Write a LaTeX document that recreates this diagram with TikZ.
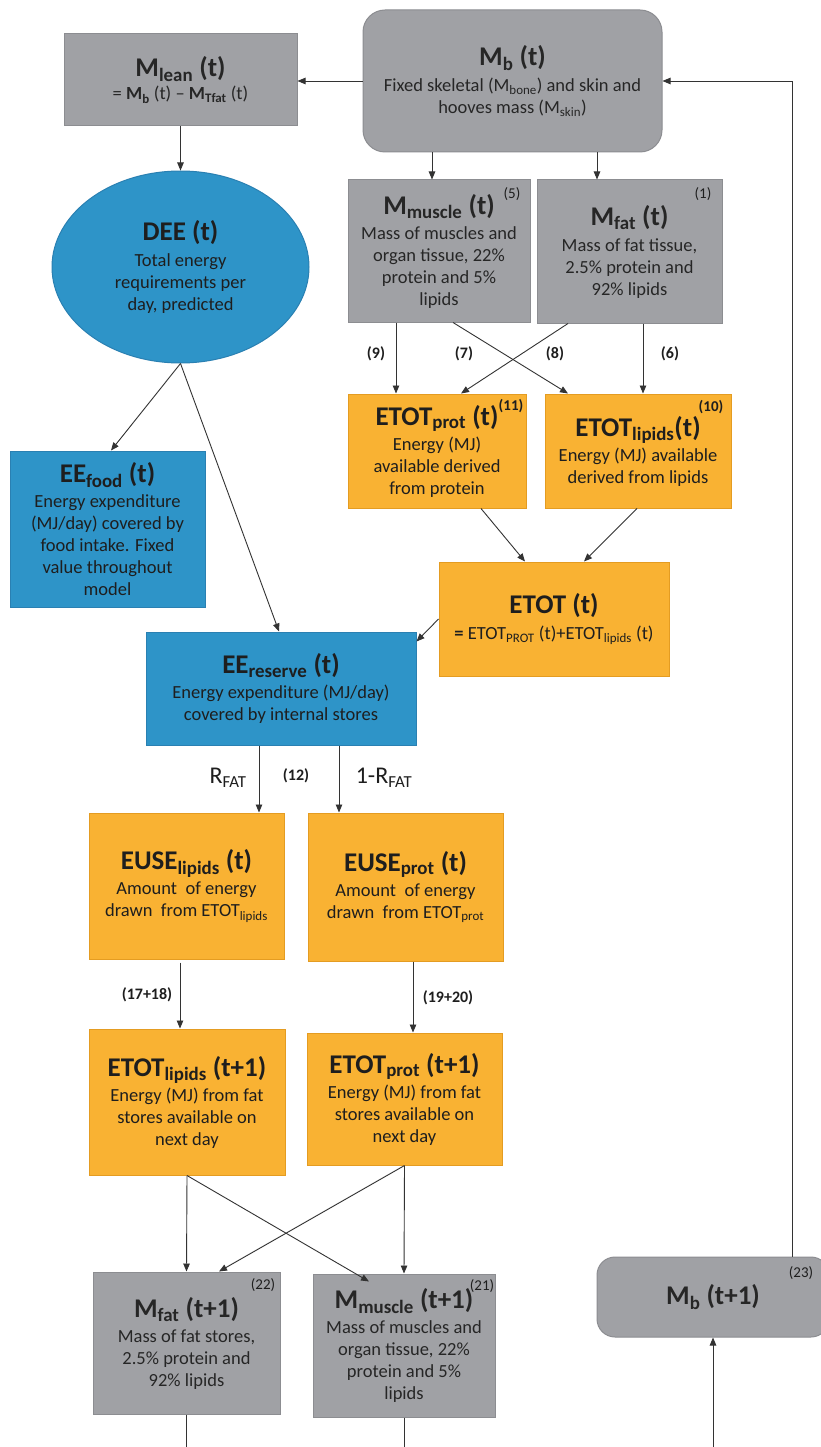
\documentclass[tikz,border=0pt]{standalone}
\usepackage{fontspec}
\setmainfont{Carlito}
\usetikzlibrary{arrows.meta,calc,shapes.geometric}
\definecolor{gfill}{HTML}{A0A1A5}
\definecolor{gline}{HTML}{8C8D91}
\definecolor{bfill}{HTML}{2E94C8}
\definecolor{bline}{HTML}{2A80B2}
\definecolor{ofill}{HTML}{F9B233}
\definecolor{oline}{HTML}{E49C22}
\definecolor{txt}{HTML}{1E1E1E}
\definecolor{gtxt}{HTML}{262626}
\definecolor{arrc}{HTML}{333333}
\newcommand\ttl[1]{{\fontsize{27}{30}\selectfont\bfseries #1}}
\newcommand\sbs[1]{\textsubscript{#1}}
\tikzset{
  base/.style={inner sep=0pt, align=center, font=\fontsize{18.5}{22}\selectfont, text=txt, line width=1pt},
  gbox/.style={base, fill=gfill, draw=gline, text=gtxt},
  bbox/.style={base, fill=bfill, draw=bline},
  obox/.style={base, fill=ofill, draw=oline},
  conn/.style={draw=arrc, line width=0.9pt, -{Triangle[length=8pt,width=6.5pt]}},
  plainline/.style={draw=arrc, line width=0.9pt},
  num/.style={font=\fontsize{15}{18}\selectfont, text=txt, inner sep=0pt},
  enum/.style={font=\fontsize{16}{18}\selectfont\bfseries, text=txt, inner sep=0pt},
  rlab/.style={font=\fontsize{24}{26}\selectfont, text=txt, inner sep=0pt},
}
\begin{document}
\begin{tikzpicture}[x=1pt,y=-1pt]
\useasboundingbox (0,0) rectangle (821,1447);
\fill[white] (0,0) rectangle (821,1447);

% boxes
\node[gbox, minimum width=233pt, minimum height=92pt] (mlean) at (180.5,80)
  {\ttl{M\sbs{lean} (t)}\\[1pt]= \textbf{M\sbs{b}} (t) – \textbf{M\sbs{Tfat}} (t)};
\node[gbox, rounded corners=22pt, minimum width=299pt, minimum height=142pt] (mb) at (512.5,81)
  {\ttl{M\sbs{b} (t)}\\[4pt]Fixed skeletal (M\sbs{bone}) and skin and\\hooves mass (M\sbs{skin})};
\node[bbox, ellipse, minimum width=257pt, minimum height=192pt] (dee) at (180.5,267)
  {\ttl{DEE (t)}\\[4pt]Total energy\\requirements per\\day, predicted};
\node[gbox, minimum width=182pt, minimum height=142pt] (mmus) at (439,251)
  {\ttl{M\sbs{muscle} (t)}\\[3pt]Mass of muscles and\\organ tissue, 22\%\\protein and 5\%\\lipids};
\node[gbox, minimum width=185pt, minimum height=143pt] (mfat) at (629.5,251.5)
  {\ttl{M\sbs{fat} (t)}\\[4pt]Mass of fat tissue,\\2.5\% protein and\\92\% lipids};
\node[obox, minimum width=178pt, minimum height=114pt] (eprot) at (437,451)
  {\ttl{ETOT\sbs{prot} (t)}\\[3pt]Energy (MJ)\\available derived\\from protein};
\node[obox, minimum width=186pt, minimum height=114pt] (elip) at (638,451)
  {\ttl{ETOT\sbs{lipids}(t)}\\[3pt]Energy (MJ) available\\derived from lipids};
\node[bbox, minimum width=195pt, minimum height=156pt] (eefood) at (107.5,529)
  {\ttl{EE\sbs{food} (t)}\\[3pt]Energy expenditure\\(MJ/day) covered by\\food intake. Fixed\\value throughout\\model};
\node[obox, minimum width=230pt, minimum height=114pt] (etot) at (554,619)
  {\ttl{ETOT (t)}\\[4pt]\textbf{=} ETOT\sbs{PROT} (t)+ETOT\sbs{lipids} (t)};
\node[bbox, minimum width=270pt, minimum height=113pt] (eeres) at (281,688.5)
  {\ttl{EE\sbs{reserve} (t)}\\[3pt]Energy expenditure (MJ/day)\\covered by internal stores};
\node[obox, minimum width=195pt, minimum height=146pt] (euselip) at (186.5,886)
  {\ttl{EUSE\sbs{lipids} (t)}\\[3pt]Amount\ \ of energy\\drawn\ \ from ETOT\sbs{lipids}};
\node[obox, minimum width=195pt, minimum height=148pt] (euseprot) at (405.5,887)
  {\ttl{EUSE\sbs{prot} (t)}\\[3pt]Amount\ \ of energy\\drawn\ \ from ETOT\sbs{prot}};
\node[obox, minimum width=196pt, minimum height=146pt] (etlip1) at (187,1102)
  {\ttl{ETOT\sbs{lipids} (t+1)}\\[3pt]Energy (MJ) from fat\\stores available on\\next day};
\node[obox, minimum width=195pt, minimum height=132pt] (etprot1) at (404.5,1099)
  {\ttl{ETOT\sbs{prot} (t+1)}\\[3pt]Energy (MJ) from fat\\stores available on\\next day};
\node[gbox, minimum width=187pt, minimum height=142pt] (mfat1) at (186.5,1343)
  {\ttl{M\sbs{fat} (t+1)}\\[3pt]Mass of fat stores,\\2.5\% protein and\\92\% lipids};
\node[gbox, minimum width=182pt, minimum height=143pt] (mmus1) at (404,1345.5)
  {\ttl{M\sbs{muscle} (t+1)}\\[3pt]Mass of muscles and\\organ tissue, 22\%\\protein and 5\%\\lipids};
\node[gbox, rounded corners=18pt, minimum width=232pt, minimum height=80pt] (mb1) at (713,1297)
  {\ttl{M\sbs{b} (t+1)}};

% corner numbers
\node[num] (n5) at (512,194) {(5)};
\node[num] (n1) at (703,194) {(1)};
\node[num, font=\fontsize{15}{18}\selectfont\bfseries] (n11) at (511,406) {(11)};
\node[num, font=\fontsize{15}{18}\selectfont\bfseries] (n10) at (711,407) {(10)};
\node[num] (n22) at (263,1285) {(22)};
\node[num] (n21) at (482,1286) {(21)};
\node[num] (n23) at (801,1273) {(23)};

% edge labels
\node[enum] (l9) at (376,354) {(9)};
\node[enum] (l7) at (464,354) {(7)};
\node[enum] (l8) at (555,354) {(8)};
\node[enum] (l6) at (670,354) {(6)};
\node[rlab] (lr) at (228,778) {R\sbs{FAT}};
\node[enum] (l12) at (296,776) {(12)};
\node[rlab] (lr2) at (384,778) {1-R\sbs{FAT}};
\node[enum] (l17) at (147,995) {(17+18)};
\node[enum] (l19) at (448,998) {(19+20)};

% helper coordinates
\coordinate (cmm) at ([xshift=-7pt]mmus.north);
\coordinate (cmf) at ([xshift=-32.5pt]mfat.north);
\coordinate (c9) at ([xshift=-43pt]mmus.south);
\coordinate (c6) at ([xshift=13.5pt]mfat.south);
\coordinate (cr1) at ([xshift=-22pt]eeres.south);
\coordinate (cr2) at ([xshift=58pt]eeres.south);
\coordinate (c17) at ([xshift=-6.5pt,yshift=-3pt]euselip.south);
\coordinate (c19) at ([xshift=7.5pt]euseprot.south);
\coordinate (pagebottom) at (0,1450);
\coordinate (mbin) at (713,1450);
\coordinate (cfb) at ([xshift=79pt]mb1.north);

% connectors
\draw[conn] (mb.west) -- (mb.west -| mlean.east);
\draw[conn] (mlean.south) -- (dee.north);
\draw[conn] (cmm |- mb.south) -- (cmm);
\draw[conn] (cmf |- mb.south) -- (cmf);
\draw[conn] (c9) -- (c9 |- eprot.north);
\draw[conn] ([xshift=14pt]mmus.south) -- ([xshift=-70pt]elip.north);
\draw[conn] ([xshift=-61.5pt]mfat.south) -- ([xshift=24pt]eprot.north);
\draw[conn] (c6) -- (c6 |- elip.north);
\draw[conn] ([xshift=44pt]eprot.south) -- ([xshift=-29pt]etot.north);
\draw[conn] ([xshift=-1pt]elip.south) -- ([xshift=30pt]etot.north);
\draw[conn] (etot.west) -- ([yshift=-10pt]eeres.north east);
\draw[conn] (dee.south) -- ([xshift=3.5pt]eefood.north);
\draw[conn] (dee.south) -- ([xshift=-2pt]eeres.north);
\draw[conn] (cr1) -- (cr1 |- euselip.north);
\draw[conn] (cr2) -- (cr2 |- euseprot.north);
\draw[conn] (c17) -- (c17 |- etlip1.north);
\draw[conn] (c19) -- (c19 |- etprot1.north);
\draw[conn] (etlip1.south) -- (mfat1.north);
\draw[conn] (etlip1.south) -- ([xshift=-35pt,yshift=-8pt]mmus1.north);
\draw[conn] (etprot1.south) -- (mmus1.north);
\draw[conn] (etprot1.south) -- ([xshift=32.5pt]mfat1.north);
\draw[plainline] (mfat1.south) -- (mfat1.south |- pagebottom);
\draw[plainline] (mmus1.south) -- (mmus1.south |- pagebottom);
\draw[conn] (mbin) -- (mbin |- mb1.south);
\draw[conn] (cfb) |- (mb.east);
\end{tikzpicture}
\end{document}
